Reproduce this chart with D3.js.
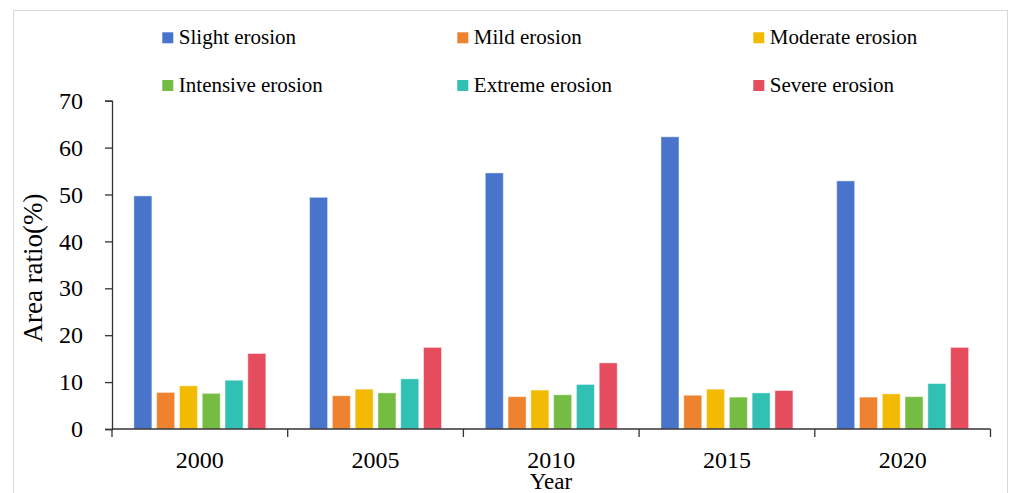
<!DOCTYPE html>
<html>
<head>
<meta charset="utf-8">
<script src="https://cdn.jsdelivr.net/npm/d3@7"></script>
<style>
  html, body { margin: 0; padding: 0; background: #fff; }
  svg { display: block; }
  text { font-family: "Liberation Serif", "Times New Roman", serif; fill: #000; }
</style>
</head>
<body>
<svg id="chart" width="1010" height="493"></svg>
<script>
// Years on the category axis
const years = ["2000", "2005", "2010", "2015", "2020"];

// Erosion classes (legend order)
const seriesNames = [
  "Slight erosion", "Mild erosion", "Moderate erosion",
  "Intensive erosion", "Extreme erosion", "Severe erosion"
];
const seriesColors = ["#4874CB", "#EE822F", "#F2BA02", "#75BD42", "#30C0B4", "#E54C5E"];

// Area ratio (%) per class, one value per year
const slight    = [49.7, 49.4, 54.6, 62.3, 52.9];
const mild      = [7.8, 7.1, 6.9, 7.2, 6.8];
const moderate  = [9.2, 8.5, 8.3, 8.5, 7.5];
const intensive = [7.6, 7.7, 7.3, 6.8, 6.9];
const extreme   = [10.4, 10.7, 9.5, 7.7, 9.7];
const severe    = [16.1, 17.4, 14.1, 8.2, 17.4];

const seriesValues = [slight, mild, moderate, intensive, extreme, severe];
const yTicks = [0, 10, 20, 30, 40, 50, 60, 70];

const svg = d3.select("#chart");

// light outer frame
svg.append("rect")
  .attr("x", 13.5).attr("y", 10.5)
  .attr("width", 994).attr("height", 490)
  .attr("fill", "none").attr("stroke", "#d9d9d9").attr("stroke-width", 1);

const x0 = d3.scaleBand().domain(years).range([112, 990.5]).padding(0);
const x1 = d3.scaleBand().domain(seriesNames)
  .range([0, x0.bandwidth()])
  .paddingInner(0.21).paddingOuter(0.96);
const y = d3.scaleLinear().domain([0, 70]).range([429, 100.7]);

// bars
const groups = svg.append("g").selectAll("g")
  .data(years)
  .join("g")
  .attr("transform", d => `translate(${x0(d)},0)`);

groups.selectAll("rect")
  .data((yr, i) => seriesNames.map((s, k) => ({ s, k, v: seriesValues[k][i] })))
  .join("rect")
  .attr("x", d => x1(d.s))
  .attr("width", x1.bandwidth())
  .attr("y", d => y(d.v))
  .attr("height", d => y(0) - y(d.v))
  .attr("fill", d => seriesColors[d.k])
  .attr("stroke", "#ffffff")
  .attr("stroke-opacity", 0.45)
  .attr("stroke-width", 1);

// y axis
const yAxis = svg.append("g")
  .attr("transform", "translate(112,0)")
  .call(d3.axisLeft(y).tickValues(yTicks).tickSize(7).tickPadding(22).tickFormat(d3.format("d")));
yAxis.selectAll("path, line").attr("stroke", "#333").attr("stroke-width", 1.3);
yAxis.selectAll("text").attr("font-size", 24).attr("font-family", "Liberation Serif").attr("fill", "#000");

// x axis with ticks at category boundaries
const xAxis = svg.append("g").attr("transform", `translate(0,${y(0)})`);
xAxis.append("line")
  .attr("x1", 112).attr("x2", 990.5)
  .attr("stroke", "#333").attr("stroke-width", 1.3);
const boundaries = years.map(d => x0(d)).concat([x0(years[years.length - 1]) + x0.bandwidth()]);
xAxis.selectAll("line.tk")
  .data(boundaries)
  .join("line")
  .attr("class", "tk")
  .attr("x1", d => d).attr("x2", d => d)
  .attr("y1", 0).attr("y2", 8)
  .attr("stroke", "#333").attr("stroke-width", 1.3);
xAxis.selectAll("text")
  .data(years)
  .join("text")
  .attr("x", d => x0(d) + x0.bandwidth() / 2)
  .attr("y", 39)
  .attr("text-anchor", "middle")
  .attr("font-size", 24)
  .text(d => d);

// axis titles
svg.append("text")
  .attr("x", 551).attr("y", 489)
  .attr("text-anchor", "middle")
  .attr("font-size", 23)
  .text("Year");

svg.append("text")
  .attr("transform", "translate(42,268) rotate(-90)")
  .attr("text-anchor", "middle")
  .attr("font-size", 27)
  .text("Area ratio(%)");

// legend: two rows of three
const legendCols = [162.3, 457.3, 753.3];
const legendRows = [32.3, 80];
const legend = svg.append("g").selectAll("g")
  .data(seriesNames)
  .join("g")
  .attr("transform", (d, i) => `translate(${legendCols[i % 3]},${legendRows[Math.floor(i / 3)]})`);
legend.append("rect")
  .attr("width", 11).attr("height", 11)
  .attr("fill", (d, i) => seriesColors[i]);
legend.append("text")
  .attr("x", 16.5).attr("y", 11.5)
  .attr("font-size", 21)
  .text(d => d);
</script>
</body>
</html>
